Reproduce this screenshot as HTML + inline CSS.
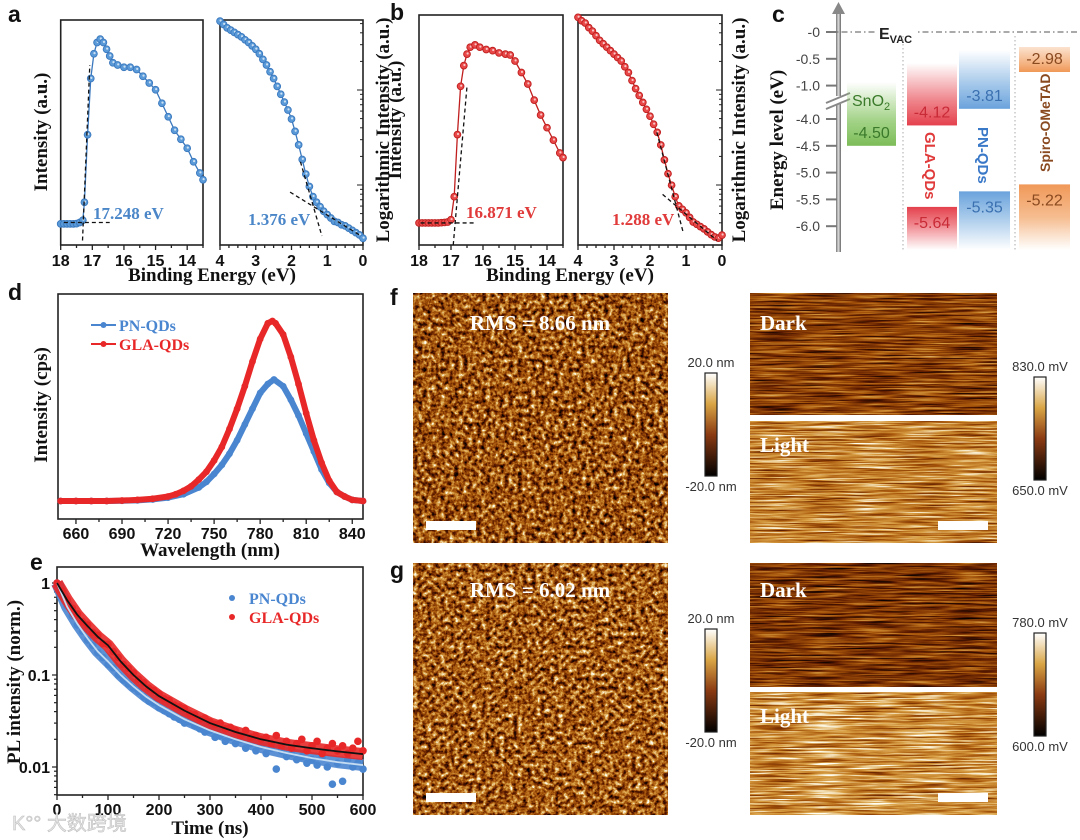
<!DOCTYPE html>
<html><head><meta charset="utf-8">
<style>body{margin:0;background:#fff}svg{display:block}</style>
</head><body>
<svg id="fig" width="1080" height="840" xmlns="http://www.w3.org/2000/svg" font-family="Liberation Serif, serif">
<defs>
  <linearGradient id="cbar" x1="0" y1="0" x2="0" y2="1">
    <stop offset="0" stop-color="#ffffff"/><stop offset="0.3" stop-color="#d9a545"/>
    <stop offset="0.6" stop-color="#8a3a12"/><stop offset="1" stop-color="#000000"/>
  </linearGradient>
  <linearGradient id="axg" x1="0" y1="0" x2="1" y2="0">
    <stop offset="0" stop-color="#777"/><stop offset="0.5" stop-color="#ddd"/><stop offset="1" stop-color="#666"/>
  </linearGradient>
  <linearGradient id="gUpG" x1="0" y1="0" x2="0" y2="1"><stop offset="0" stop-color="#8cc86a" stop-opacity="0"/><stop offset="0.6" stop-color="#8cc86a" stop-opacity="0.8"/><stop offset="1" stop-color="#7cbc58"/></linearGradient>
  <linearGradient id="gUpR" x1="0" y1="0" x2="0" y2="1"><stop offset="0" stop-color="#e8505a" stop-opacity="0"/><stop offset="0.6" stop-color="#e8505a" stop-opacity="0.7"/><stop offset="1" stop-color="#e4404c"/></linearGradient>
  <linearGradient id="gUpB" x1="0" y1="0" x2="0" y2="1"><stop offset="0" stop-color="#7aaee0" stop-opacity="0"/><stop offset="0.6" stop-color="#7aaee0" stop-opacity="0.7"/><stop offset="1" stop-color="#6aa2dc"/></linearGradient>
  <linearGradient id="gUpO" x1="0" y1="0" x2="0" y2="1"><stop offset="0" stop-color="#f2a060" stop-opacity="0.3"/><stop offset="1" stop-color="#f09858"/></linearGradient>
  <linearGradient id="gDnR" x1="0" y1="0" x2="0" y2="1"><stop offset="0" stop-color="#e4404c"/><stop offset="0.4" stop-color="#e8505a" stop-opacity="0.7"/><stop offset="1" stop-color="#e8505a" stop-opacity="0"/></linearGradient>
  <linearGradient id="gDnB" x1="0" y1="0" x2="0" y2="1"><stop offset="0" stop-color="#6aa2dc"/><stop offset="0.4" stop-color="#7aaee0" stop-opacity="0.7"/><stop offset="1" stop-color="#7aaee0" stop-opacity="0"/></linearGradient>
  <linearGradient id="gDnO" x1="0" y1="0" x2="0" y2="1"><stop offset="0" stop-color="#f09858"/><stop offset="0.5" stop-color="#f2a060" stop-opacity="0.7"/><stop offset="1" stop-color="#f2a060" stop-opacity="0"/></linearGradient>
</defs>
<rect x="0" y="0" width="1080" height="840" fill="#fff"/>
<g font-family="Liberation Sans, sans-serif" font-weight="bold" font-size="23" fill="#111">
  <text x="8" y="22">a</text>
  <text x="390" y="20">b</text>
  <text x="772" y="22">c</text>
  <text x="8" y="300">d</text>
  <text x="30" y="570">e</text>
  <text x="390" y="305">f</text>
  <text x="390" y="578">g</text>
</g>
<g id="layer"></g>
<text x="12" y="830" font-family="Liberation Sans, Noto Sans CJK SC, sans-serif" font-size="20" fill="#e4e4e4" stroke="#bbb" stroke-width="0.5">K°° 大数跨境</text>
</svg>
<script>
// ---------- DATA ----------
const aLeftBE = [18,17.9,17.8,17.7,17.6,17.5,17.4,17.3,17.25,17.15,17.05,16.95,16.85,16.75,16.65,16.55,16.45,16.35,16.2,16.0,15.8,15.6,15.4,15.2,15.0,14.8,14.6,14.4,14.2,14.0,13.8,13.6,13.5];
const aLeftI = [.094,.094,.094,.094,.094,.095,.1,.11,.19,.49,.74,.85,.9,.915,.9,.87,.84,.81,.8,.79,.79,.78,.75,.72,.69,.63,.57,.51,.47,.43,.37,.32,.29];
const aRightBE = [4.0,3.9,3.8,3.7,3.6,3.5,3.4,3.3,3.2,3.1,3.0,2.9,2.8,2.7,2.6,2.5,2.4,2.3,2.2,2.1,2.0,1.9,1.8,1.7,1.6,1.5,1.4,1.3,1.2,1.1,1.0,0.9,0.8,0.7,0.6,0.5,0.4,0.3,0.2,0.1,0.0];
const aRightI = [.995,.98,.965,.955,.945,.935,.925,.912,.9,.885,.87,.85,.825,.8,.77,.74,.705,.67,.635,.6,.56,.505,.445,.38,.315,.26,.215,.19,.17,.15,.135,.12,.105,.1,.09,.085,.075,.065,.055,.045,.03];
const bLeftBE = [18,17.9,17.8,17.7,17.6,17.5,17.4,17.3,17.2,17.1,17.0,16.9,16.8,16.7,16.6,16.5,16.4,16.25,16.1,15.9,15.7,15.5,15.3,15.15,15.0,14.8,14.6,14.4,14.2,14.0,13.8,13.6,13.5];
const bLeftI = [.096,.096,.096,.096,.096,.096,.096,.097,.098,.1,.11,.21,.48,.69,.78,.83,.86,.87,.86,.85,.845,.835,.83,.826,.8,.75,.7,.63,.565,.51,.456,.4,.38];
const bRightBE = aRightBE;
const bRightI = [.99,.975,.965,.945,.93,.91,.89,.875,.86,.845,.83,.815,.8,.775,.75,.715,.68,.65,.62,.59,.56,.525,.49,.435,.37,.31,.26,.21,.17,.155,.14,.12,.1,.09,.08,.07,.057,.045,.035,.03,.043];
const cutoffLabels = ["17.248 eV","1.376 eV","16.871 eV","1.288 eV"];

const dWave = [650,660,670,680,690,700,710,720,725,730,735,740,745,750,755,760,765,770,775,780,785,788,790,795,800,805,810,815,820,825,830,835,840,847];
const dGLA = [.08,.08,.08,.08,.082,.085,.09,.1,.11,.125,.145,.175,.21,.26,.32,.4,.49,.59,.7,.8,.87,.88,.87,.82,.72,.6,.47,.35,.25,.17,.12,.1,.085,.08];
const dWaveB = [650,660,670,680,690,700,710,720,730,740,745,750,755,760,765,770,775,780,785,789,795,800,805,810,815,820,825,830,835,840,847];
const dPN = [.08,.08,.08,.08,.081,.083,.087,.095,.11,.14,.165,.2,.24,.29,.35,.42,.49,.56,.6,.62,.59,.53,.46,.38,.3,.22,.16,.12,.1,.085,.08];
const dXTicks = [660,690,720,750,780,810,840];

const eTime = [0,10,20,30,40,50,60,70,80,90,100,110,120,130,140,150,160,170,180,190,200,210,220,230,240,250,260,270,280,290,300,310,320,330,340,350,360,370,380,390,400,410,420,430,440,450,460,470,480,490,500,510,520,530,540,550,560,570,580,590,600];
const eGLA = [1.0,.82,.66,.53,.46,.38,.35,.29,.27,.22,.215,.18,.155,.13,.118,.105,.09,.082,.072,.068,.062,.055,.053,.047,.045,.043,.038,.037,.033,.034,.031,.029,.03,.026,.027,.025,.022,.025,.021,.022,.02,.021,.018,.022,.017,.019,.016,.018,.02,.015,.017,.019,.014,.016,.018,.015,.017,.014,.016,.019,.015];
const ePN = [1.0,.74,.56,.44,.35,.3,.24,.21,.175,.155,.13,.12,.1,.088,.08,.072,.066,.058,.052,.05,.044,.041,.038,.035,.033,.03,.031,.028,.026,.024,.025,.021,.022,.019,.021,.018,.02,.016,.018,.015,.017,.014,.016,.0095,.015,.013,.014,.012,.013,.011,.012,.0105,.013,.01,.0065,.011,.007,.012,.01,.011,.0095];
const eFitT = [0,20,40,60,80,100,125,150,175,200,250,300,350,400,450,500,550,600];
const eFitGLA = [1,.65,.45,.34,.26,.21,.14,.1,.075,.059,.041,.03,.024,.02,.0175,.016,.0148,.0138];
const eFitPN = [1,.55,.36,.25,.18,.14,.1,.075,.058,.047,.033,.025,.02,.0165,.0142,.0125,.0113,.0105];
const eXTicks = [0,100,200,300,400,500,600];
const eYTicks = [1,0.1,0.01];
const eYTickLabels = ["1","0.1","0.01"];

const cTickLabels = ["-0","-0.5","-1.0","-4.0","-4.5","-5.0","-5.5","-6.0"];
const cTickValues = [0,-0.5,-1.0,-4.0,-4.5,-5.0,-5.5,-6.0];
const cLUMO = [-4.50,-4.12,-3.81,-2.98];
const cHOMO = [null,-5.64,-5.35,-5.22];

// ---------- HELPERS ----------
const NS="http://www.w3.org/2000/svg";
const L=document.getElementById('layer');
function mk(tag,attrs,parent){const e=document.createElementNS(NS,tag);for(const k in attrs)e.setAttribute(k,attrs[k]);(parent||L).appendChild(e);return e;}
function lin(d0,d1,r0,r1){return v=>r0+(v-d0)/(d1-d0)*(r1-r0);}
function txt(s,attrs,name){const t=mk('text',attrs);t.textContent=s;


return t;}

// ---------- XPS PANELS ----------
function xpsPanel(x0,x1,y0,y1,d0,d1,step,minor,xs,ys,fill,stroke,name,rightLog){
  const sx=lin(d0,d1,x0,x1), sy=v=>y1-v*(y1-y0);
  const box=mk('rect',{x:x0,y:y0,width:x1-x0,height:y1-y0,fill:'none',stroke:'#222','stroke-width':1.6});
  
  
  const dir=d1<d0?-1:1;
  for(let v=d0;dir*(v-d1)<=1e-9;v+=dir*minor){
    const isMaj=Math.abs(v/step-Math.round(v/step))<1e-6;
    const t=mk('line',{x1:sx(v),x2:sx(v),y1:y1,y2:y1+(isMaj?5:3),stroke:'#222','stroke-width':1.3});
    
    
    if(isMaj){txt(String(Math.round(v)),{x:sx(v),y:y1+21,'text-anchor':'middle','font-family':'Liberation Sans, sans-serif','font-weight':'bold','font-size':16,fill:'#111'},name+'-x-tick-label');}
  }
  if(rightLog){
    const dec=95;
    for(let k=-1;k<=1;k++){for(let m=1;m<10;m++){
      const y=185-k*dec-Math.log10(m)*dec;
      if(y<y0+2||y>y1-2)continue;
      const t=mk('line',{x1:x1,x2:x1-(m==1?6:3),y1:y,y2:y,stroke:'#222','stroke-width':1});
      
      
    }}
  }
  const pts=xs.map((v,i)=>sx(v)+','+sy(ys[i])).join(' ');
  const pl=mk('polyline',{points:pts,fill:'none',stroke:stroke,'stroke-width':1.3});
  
  
  xs.forEach((v,i)=>{
    const c=mk('circle',{cx:sx(v),cy:sy(ys[i]),r:3.4,fill:fill,stroke:stroke,'stroke-width':0.9});
    
    
    const h=mk('circle',{cx:sx(v)+0.6,cy:sy(ys[i])-0.6,r:1.1,fill:'#fff','fill-opacity':0.7});
    
    
  });
  return {sx,sy};
}
function dash(s,xa,ya,xb,yb,name){
  const l=mk('line',{x1:s.sx(xa),y1:s.sy(ya),x2:s.sx(xb),y2:s.sy(yb),stroke:'#111','stroke-width':1.3,'stroke-dasharray':'4 3'});
  
  
}
const BL='#5a9ad8',BS='#3a78be',RL='#e84848',RS='#c01e1e';
let s;
s=xpsPanel(60.7,203,20,245,18,13.5,1,0.5,aLeftBE,aLeftI,BL,BS,'a-cutoff',false);
dash(s,17.9,0.1,16.45,0.1,'a-cutoff-baseline-fit');
dash(s,17.31,0.02,17.08,0.8,'a-cutoff-edge-fit');
s=xpsPanel(220,363,20,245,4,0,1,0.25,aRightBE,aRightI,BL,BS,'a-vb',true);
dash(s,2.04,0.235,0.05,0.04,'a-vb-tail-fit');
dash(s,1.75,0.37,1.15,0.04,'a-vb-edge-fit');
s=xpsPanel(419,563,15,245,18,13.5,1,0.5,bLeftBE,bLeftI,RL,RS,'b-cutoff',false);
dash(s,17.95,0.096,16.25,0.096,'b-cutoff-baseline-fit');
dash(s,16.93,0.0,16.5,0.69,'b-cutoff-edge-fit');
s=xpsPanel(578,722,15,245,4,0,1,0.25,bRightBE,bRightI,RL,RS,'b-vb',true);
dash(s,1.65,0.22,0.14,0.02,'b-vb-tail-fit');
dash(s,1.81,0.49,1.07,0.05,'b-vb-edge-fit');

const lblStyle={'font-family':'Liberation Serif, serif','font-weight':'bold','font-size':17};
txt(cutoffLabels[0],Object.assign({x:93,y:219,fill:'#4a86c8'},lblStyle),'a-cutoff-value');
txt(cutoffLabels[1],Object.assign({x:248,y:225,fill:'#4a86c8'},lblStyle),'a-vb-value');
txt(cutoffLabels[2],Object.assign({x:466,y:218,fill:'#e03a3a'},lblStyle),'b-cutoff-value');
txt(cutoffLabels[3],Object.assign({x:612,y:225,fill:'#e03a3a'},lblStyle),'b-vb-value');
const axT={'font-family':'Liberation Serif, serif','font-weight':'bold','font-size':19,fill:'#111','text-anchor':'middle'};
txt('Binding Energy (eV)',Object.assign({x:212,y:281},axT),'a-x-axis-title');
txt('Binding Energy (eV)',Object.assign({x:570,y:281},axT),'b-x-axis-title');
txt('Intensity (a.u.)',Object.assign({x:0,y:0,transform:'translate(47,132) rotate(-90)'},axT),'a-y-axis-title');
txt('Logarithmic Intensity (a.u.)',Object.assign({x:0,y:0,transform:'translate(389,130) rotate(-90)'},axT),'b-y-axis-title-log');
txt('Intensity (a.u.)',Object.assign({x:0,y:0,transform:'translate(401,120) rotate(-90)'},axT),'b-y-axis-title');
txt('Logarithmic Intensity (a.u.)',Object.assign({x:0,y:0,transform:'translate(745,130) rotate(-90)'},axT),'b-right-y-axis-title');

// ---------- PANEL C ----------
const cY=E=> E>-2 ? 32-E*53.6 : 119+(-4-E)*53.6;
let el;
el=mk('rect',{x:836,y:12,width:5,height:240,fill:'url(#axg)'});


el=mk('polygon',{points:'832,14 838.5,2 845,14',fill:'#888'});


el=mk('g',{});


mk('rect',{x:826,y:96,width:24,height:8,fill:'#fff'},el);
mk('line',{x1:826,y1:103,x2:850,y2:93,stroke:'#888','stroke-width':2},el);
mk('line',{x1:826,y1:109,x2:850,y2:99,stroke:'#888','stroke-width':2},el);
cTickValues.forEach((v,i)=>{
  const t=mk('line',{x1:826,x2:837,y1:cY(v),y2:cY(v),stroke:'#777','stroke-width':2});
  
  
  txt(cTickLabels[i],{x:820,y:cY(v)+5,'text-anchor':'end','font-family':'Liberation Sans, sans-serif','font-size':14,fill:'#444'},'c-y-tick-label');
});
txt('Energy level (eV)',Object.assign({x:0,y:0,transform:'translate(783,140) rotate(-90)'},axT),'c-y-axis-title');
el=mk('line',{x1:828,y1:32,x2:1080,y2:32,stroke:'#777','stroke-width':1.2,'stroke-dasharray':'6 3 1.5 3'});


el=mk('rect',{x:876,y:22,width:42,height:22,fill:'#fff'});


el=txt('E',{x:879,y:39,'font-family':'Liberation Sans, sans-serif','font-weight':'bold','font-size':16,fill:'#222'},'c-evac-label');
const sub=mk('tspan',{'font-size':11,dy:4},el); sub.textContent='VAC';
[903,1015].forEach(x=>{
  const l=mk('line',{x1:x,x2:x,y1:36,y2:252,stroke:'#aaa','stroke-width':1,'stroke-dasharray':'1.5 2.5'});
  
  
});
const cBarX=[[847,896],[907,957],[959,1010],[1019,1070]];
const cUpTop=[82,63,50,47];
const cUpFill=['url(#gUpG)','url(#gUpR)','url(#gUpB)','url(#gUpO)'];
const cDnFill=[null,'url(#gDnR)','url(#gDnB)','url(#gDnO)'];
const cTxt=['#3a7a2a','#c82a36','#3a70b0','#8a4a20'];
const cNames=['sno2','gla-qds','pn-qds','spiro-ometad'];
cLUMO.forEach((E,i)=>{
  const yb = i==3 ? 72 : cY(E);
  const r=mk('rect',{x:cBarX[i][0],y:cUpTop[i],width:cBarX[i][1]-cBarX[i][0],height:yb-cUpTop[i],fill:cUpFill[i]});
  
  
  txt(E.toFixed(2),{x:(cBarX[i][0]+cBarX[i][1])/2,y:yb-8,'text-anchor':'middle','font-family':'Liberation Sans, sans-serif','font-size':16,fill:cTxt[i]},cNames[i]+'-lumo-value');
  if(cHOMO[i]!==null){
    const yt=cY(cHOMO[i]);
    const r2=mk('rect',{x:cBarX[i][0],y:yt,width:cBarX[i][1]-cBarX[i][0],height:250-yt,fill:cDnFill[i]});
    
    
    txt(cHOMO[i].toFixed(2),{x:(cBarX[i][0]+cBarX[i][1])/2,y:yt+21,'text-anchor':'middle','font-family':'Liberation Sans, sans-serif','font-size':16,fill:cTxt[i]},cNames[i]+'-homo-value');
  }
});
el=txt('SnO',{x:852,y:106,'font-family':'Liberation Sans, sans-serif','font-size':16,fill:'#3a7a2a'},'c-sno2-label');
const s2=mk('tspan',{'font-size':11,dy:4},el); s2.textContent='2';
txt('GLA-QDs',{x:0,y:0,transform:'translate(925,132) rotate(90)','font-family':'Liberation Sans, sans-serif','font-weight':'bold','font-size':15,fill:'#e03a3a'},'c-gla-qds-label');
txt('PN-QDs',{x:0,y:0,transform:'translate(978,127) rotate(90)','font-family':'Liberation Sans, sans-serif','font-weight':'bold','font-size':15,fill:'#3a78c8'},'c-pn-qds-label');
txt('Spiro-OMeTAD',{x:0,y:0,transform:'translate(1050,172) rotate(-90)','font-family':'Liberation Sans, sans-serif','font-weight':'bold','font-size':14,fill:'#8a4a20'},'c-spiro-label');

// ---------- PANEL D ----------
const dX=lin(648.3,847,58,363), dY=n=>519-n*225;
el=mk('rect',{x:58,y:294,width:305,height:225,fill:'none',stroke:'#222','stroke-width':1.6});


for(let v=660;v<=847;v+=15){
  const maj=(v-660)%30==0;
  const t=mk('line',{x1:dX(v),x2:dX(v),y1:519,y2:519+(maj?5:3),stroke:'#222','stroke-width':1.3});
  
  
}
dXTicks.forEach(v=>txt(String(v),{x:dX(v),y:539,'text-anchor':'middle','font-family':'Liberation Sans, sans-serif','font-weight':'bold','font-size':16,fill:'#111'},'d-x-tick-label'));
txt('Wavelength (nm)',Object.assign({x:210,y:556},axT),'d-x-axis-title');
txt('Intensity (cps)',Object.assign({x:0,y:0,transform:'translate(47,405) rotate(-90)'},axT),'d-y-axis-title');
function pseries(xs,ys,col,name){
  const pl=mk('polyline',{points:xs.map((v,i)=>dX(v)+','+dY(ys[i])).join(' '),fill:'none',stroke:col,'stroke-width':6,'stroke-linejoin':'round'});
  
  
  xs.forEach((v,i)=>{const c=mk('circle',{cx:dX(v),cy:dY(ys[i]),r:3.4,fill:col});
  
  });
}
pseries(dWaveB,dPN,'#4a86d0','d-pn-qds');
pseries(dWave,dGLA,'#e82828','d-gla-qds');
[['PN-QDs','#4a86d0',325],['GLA-QDs','#e82828',344]].forEach((l,i)=>{
  const ln=mk('line',{x1:91,x2:116,y1:l[2],y2:l[2],stroke:l[1],'stroke-width':2});
  
  
  const c=mk('circle',{cx:103.5,cy:l[2],r:3,fill:l[1]});
  
  
  txt(l[0],{x:119,y:l[2]+6,'font-family':'Liberation Serif, serif','font-weight':'bold','font-size':16,fill:l[1]},'d-legend-entry-'+i);
});

// ---------- PANEL E ----------
const eX=lin(0,600,57,363), eY=v=>583-Math.log10(v)*92;
el=mk('rect',{x:57,y:567,width:306,height:228,fill:'none',stroke:'#222','stroke-width':1.6});


for(let v=0;v<=600;v+=50){
  const t=mk('line',{x1:eX(v),x2:eX(v),y1:795,y2:795+(v%100==0?5:3),stroke:'#222','stroke-width':1.3});
  
  
}
eXTicks.forEach(v=>txt(String(v),{x:eX(v),y:815,'text-anchor':'middle','font-family':'Liberation Sans, sans-serif','font-weight':'bold','font-size':16,fill:'#111'},'e-x-tick-label'));
for(let d=-3;d<=0;d++){for(let m=1;m<10;m++){
  const v=m*Math.pow(10,d), y=eY(v);
  if(y<567||y>795)continue;
  const t=mk('line',{x1:57,x2:57-(m==1?5:3),y1:y,y2:y,stroke:'#222','stroke-width':1.2});
  
  
}}
eYTicks.forEach((v,i)=>txt(eYTickLabels[i],{x:50,y:eY(v)+6,'text-anchor':'end','font-family':'Liberation Sans, sans-serif','font-weight':'bold','font-size':16,fill:'#111'},'e-y-tick-label'));
txt('Time (ns)',Object.assign({x:210,y:834},axT),'e-x-axis-title');
txt('PL intensity (norm.)',Object.assign({x:0,y:0,transform:'translate(20,682) rotate(-90)'},axT),'e-y-axis-title');
el=mk('polyline',{points:eFitT.map((t,i)=>eX(t)+','+eY(eFitPN[i])).join(' '),fill:'none',stroke:'#4a86d0','stroke-width':12,'stroke-linejoin':'round','stroke-opacity':0.9});


ePN.forEach((v,i)=>{const c=mk('circle',{cx:eX(eTime[i]),cy:eY(v),r:3.8,fill:'#4a86d0'});

});
el=mk('polyline',{points:eFitT.map((t,i)=>eX(t)+','+eY(eFitGLA[i])).join(' '),fill:'none',stroke:'#e82828','stroke-width':12,'stroke-linejoin':'round','stroke-opacity':0.9});


eGLA.forEach((v,i)=>{const c=mk('circle',{cx:eX(eTime[i]),cy:eY(v),r:3.8,fill:'#e82828'});

});
el=mk('polyline',{points:eFitT.map((t,i)=>eX(t)+','+eY(eFitPN[i])).join(' '),fill:'none',stroke:'#c4dcf2','stroke-width':1.8});


el=mk('polyline',{points:eFitT.map((t,i)=>eX(t)+','+eY(eFitGLA[i])).join(' '),fill:'none',stroke:'#111','stroke-width':1.8});


[['PN-QDs','#4a86d0',598],['GLA-QDs','#e82828',617]].forEach((l,i)=>{
  const c=mk('circle',{cx:232,cy:l[2],r:3,fill:l[1]});
  
  
  txt(l[0],{x:249,y:l[2]+6,'font-family':'Liberation Serif, serif','font-weight':'bold','font-size':16,fill:l[1]},'e-legend-entry-'+i);
});

// ---------- AFM / KPFM IMAGES ----------
const defs=document.querySelector('defs');
let fid=0;
function noiseImg(x,y,w,h,freq,oct,k,bias,seed,name){
  const id='nf'+(fid++);
  const f=mk('filter',{id:id,filterUnits:'userSpaceOnUse',x:x,y:y,width:w,height:h,'color-interpolation-filters':'sRGB'},defs);
  mk('feTurbulence',{type:'fractalNoise',baseFrequency:freq,numOctaves:oct,seed:seed},f);
  const o=(-0.5*k+0.5+bias).toFixed(3);
  mk('feColorMatrix',{type:'matrix',values:`${k} 0 0 0 ${o}  ${k} 0 0 0 ${o}  ${k} 0 0 0 ${o}  0 0 0 0 1`},f);
  const ct=mk('feComponentTransfer',{},f);
  mk('feFuncR',{type:'table',tableValues:'0 0.36 0.66 0.86 1'},ct);
  mk('feFuncG',{type:'table',tableValues:'0 0.1 0.34 0.64 1'},ct);
  mk('feFuncB',{type:'table',tableValues:'0 0 0.04 0.28 0.95'},ct);
  const r=mk('rect',{x:x,y:y,width:w,height:h,fill:'#000',filter:`url(#${id})`});
  
  
}
function cbar(x,y,top,bot,name){
  const r=mk('rect',{x:x,y:y,width:12,height:103,fill:'url(#cbar)',stroke:'#222','stroke-width':1.2});
  
  
  const st={'font-family':'Liberation Sans, sans-serif','font-size':13,fill:'#333','text-anchor':'middle'};
  txt(top,Object.assign({x:x+6,y:y-6},st),name+'-max-label');
  txt(bot,Object.assign({x:x+6,y:y+118},st),name+'-min-label');
}
function sbar(x,y,name){const r=mk('rect',{x:x,y:y,width:50,height:9,fill:'#fff'});

}
const imgT={'font-family':'Liberation Serif, serif','font-weight':'bold','font-size':21,fill:'#fff'};
noiseImg(413,293,255,250,'0.22',4,1.5,-0.02,3,'f-afm-image');
noiseImg(750,293,247,122,'0.02 0.6',3,1.1,-0.09,5,'f-kpfm-dark-image');
noiseImg(750,421,247,122,'0.02 0.6',3,1.2,0.14,7,'g-kpfm-light-image-f');
noiseImg(413,563,255,252,'0.22',4,1.5,0.0,11,'g-afm-image');
noiseImg(750,563,247,124,'0.02 0.6',3,1.1,-0.13,13,'g-kpfm-dark-image');
noiseImg(750,692,247,123,'0.02 0.6',3,1.2,0.18,17,'g-kpfm-light-image');
txt('RMS = 8.66 nm',Object.assign({x:540,y:330,'text-anchor':'middle'},imgT),'f-rms-label');
txt('Dark',Object.assign({x:760,y:330},imgT),'f-dark-label');
txt('Light',Object.assign({x:760,y:452},imgT),'f-light-label');
txt('RMS = 6.02 nm',Object.assign({x:540,y:597,'text-anchor':'middle'},imgT),'g-rms-label');
txt('Dark',Object.assign({x:760,y:597},imgT),'g-dark-label');
txt('Light',Object.assign({x:760,y:723},imgT),'g-light-label');
sbar(426,521,'f-afm-scale-bar'); sbar(938,521,'f-kpfm-scale-bar');
sbar(426,793,'g-afm-scale-bar'); sbar(938,793,'g-kpfm-scale-bar');
cbar(705,373,'20.0 nm','-20.0 nm','f-height-colorbar');
cbar(1034,377,'830.0 mV','650.0 mV','f-potential-colorbar');
cbar(705,629,'20.0 nm','-20.0 nm','g-height-colorbar');
cbar(1034,633,'780.0 mV','600.0 mV','g-potential-colorbar');
</script>
</body></html>
